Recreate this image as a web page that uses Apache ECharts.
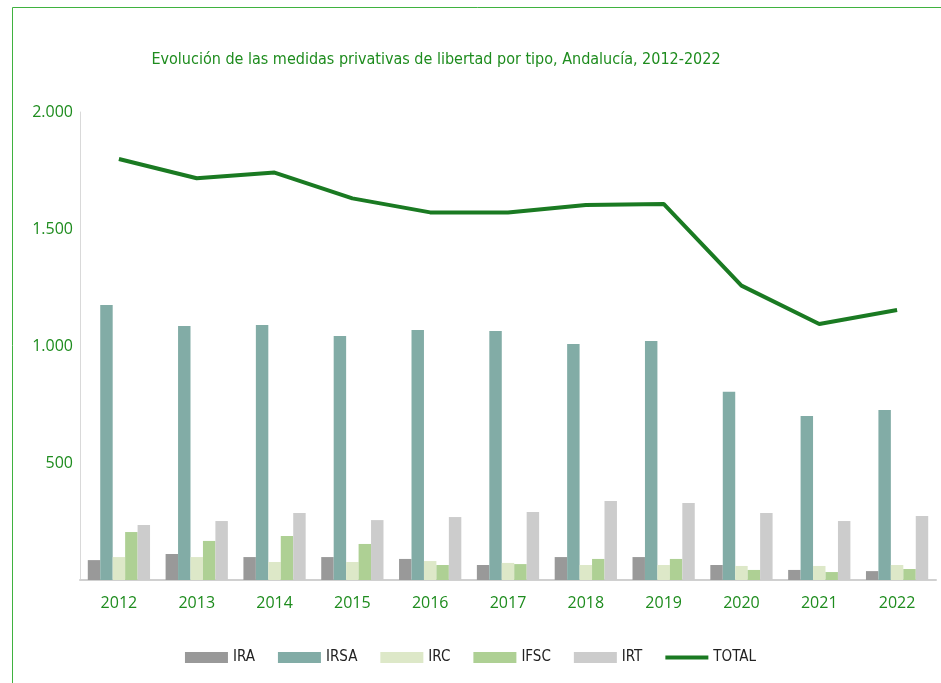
<!DOCTYPE html>
<html>
<head>
<meta charset="utf-8">
<script src="https://cdn.jsdelivr.net/npm/echarts@6/dist/echarts.min.js"></script>
<style>html,body{margin:0;padding:0;background:#fff;}#c{width:941px;height:683px;}</style>
</head>
<body>
<div id="c"></div>
<script>
const categories = ['2012','2013','2014','2015','2016','2017','2018','2019','2020','2021','2022'];
const IRA  = [85, 111, 98, 98, 90, 64, 98, 98, 64, 43, 38];
const IRSA = [1175, 1086, 1090, 1043, 1068, 1064, 1009, 1021, 804, 701, 727];
const IRC  = [98, 98, 77, 77, 81, 73, 64, 64, 60, 60, 64];
const IFSC = [205, 167, 188, 154, 64, 68, 90, 90, 43, 34, 47];
const IRT  = [235, 252, 286, 256, 269, 291, 338, 329, 286, 252, 274];
const TOTAL = [1799, 1717, 1741, 1631, 1571, 1571, 1603, 1607, 1258, 1094, 1154];
const yTicks = [0, 500, 1000, 1500, 2000];

const green = '#1e8c1e';
const narrow = "'Liberation Sans Narrow', 'DejaVu Sans Condensed', 'Roboto Condensed', sans-serif";
const chart = echarts.init(document.getElementById('c'));
function fmt(v){ if (v === 0) return ''; return String(v).replace(/\B(?=(\d{3})+(?!\d))/g, '.'); }
const barSeries = (name, data, color) => ({ name, type: 'bar', data, itemStyle: { color }, barGap: '0%', barCategoryGap: '20%' });
chart.setOption({
  animation: false,
  title: {
    text: 'Evolución de las medidas privativas de libertad por tipo, Andalucía, 2012-2022',
    left: 431, top: 47, textAlign: 'center',
    textStyle: { color: green, fontFamily: narrow, fontWeight: 'normal', fontSize: 16 }
  },
  graphic: [{ type: 'rect', shape: { x: 12.5, y: 7.5, width: 1000, height: 1000 }, style: { fill: 'none', stroke: '#3fb23f', lineWidth: 1 }, silent: true }],
  legend: {
    bottom: 13, left: 'center',
    itemWidth: 43, itemHeight: 11, itemGap: 23,
    textStyle: { color: '#222', fontFamily: narrow, fontSize: 15 },
    data: [
      { name: 'IRA', icon: 'rect' },
      { name: 'IRSA', icon: 'rect' },
      { name: 'IRC', icon: 'rect' },
      { name: 'IFSC', icon: 'rect' },
      { name: 'IRT', icon: 'rect' },
      { name: 'TOTAL', icon: 'path://M0,0 M43,11 M0,3.5 L43,3.5 L43,7.5 L0,7.5 Z' }
    ]
  },
  grid: { left: 80, right: 5, top: 112, bottom: 103, containLabel: false },
  xAxis: {
    type: 'category', data: categories,
    axisLine: { lineStyle: { color: '#d0d0d0', width: 2 } },
    axisTick: { show: false },
    axisLabel: { color: green, fontFamily: "'Open Sans', sans-serif", fontSize: 16, margin: 15 }
  },
  yAxis: {
    type: 'value', min: yTicks[0], max: yTicks[yTicks.length - 1], interval: 500,
    axisLine: { show: true, lineStyle: { color: '#d9d9d9', width: 1 } },
    axisTick: { show: false },
    splitLine: { show: false },
    axisLabel: { color: green, fontFamily: "'Open Sans', sans-serif", fontSize: 16, margin: 7, formatter: fmt }
  },
  series: [
    barSeries('IRA', IRA, '#999999'),
    barSeries('IRSA', IRSA, '#82aca6'),
    barSeries('IRC', IRC, '#dde8c8'),
    barSeries('IFSC', IFSC, '#aed094'),
    barSeries('IRT', IRT, '#cccccc'),
    { name: 'TOTAL', type: 'line', data: TOTAL, symbol: 'none', lineStyle: { color: '#1a7a22', width: 4 }, itemStyle: { color: '#1a7a22' } }
  ]
});
</script>
</body>
</html>
